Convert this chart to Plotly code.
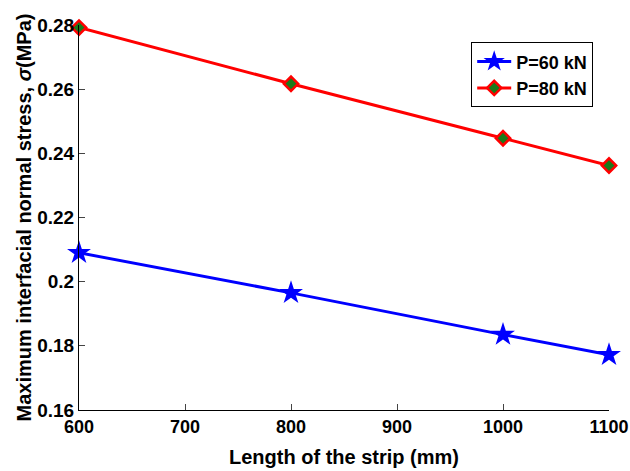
import plotly.graph_objects as go

lengths = [600, 800, 1000, 1100]
p60 = [0.2090, 0.1965, 0.1835, 0.1772]
p80 = [0.2792, 0.2617, 0.2447, 0.2362]
x_ticks = [600, 700, 800, 900, 1000, 1100]
y_ticks = [0.16, 0.18, 0.2, 0.22, 0.24, 0.26, 0.28]
y_tick_text = ["0.16", "0.18", "0.2", "0.22", "0.24", "0.26", "0.28"]

fig = go.Figure()
fig.add_trace(go.Scatter(x=lengths, y=p60, mode="lines+markers", name="P=60 kN",
                         line=dict(color="#0000ff", width=3), cliponaxis=False,
                         marker=dict(symbol="star", size=18, color="#0000ff")))
fig.add_trace(go.Scatter(x=lengths, y=p80, mode="lines+markers", name="P=80 kN",
                         line=dict(color="#ff0000", width=3), cliponaxis=False,
                         marker=dict(symbol="diamond", size=11, color="#1a7a1a",
                                     line=dict(color="#ff0000", width=2.5))))

fam = "Liberation Sans, Arial"
fig.update_layout(
    width=630, height=471,
    margin=dict(l=79, r=21, t=25, b=61),
    paper_bgcolor="white", plot_bgcolor="white",
    font=dict(family=fam, size=18, color="black"),
    showlegend=True,
    legend=dict(x=0.74, y=0.955, xanchor="left", yanchor="top",
                bordercolor="black", borderwidth=1, bgcolor="white",
                font=dict(size=18, family=fam, weight="bold"),
                tracegroupgap=0, itemwidth=34),
    xaxis=dict(range=[600, 1100], tickvals=x_ticks, ticks="inside", ticklen=6,
               showline=True, linecolor="black", linewidth=1, mirror=False,
               showgrid=False, zeroline=False, automargin=False,
               ticklabeloverflow="allow",
               tickfont=dict(size=18, weight="bold"),
               title=dict(text="Length of the strip (mm)", font=dict(size=20, weight="bold"),
                          standoff=14)),
    yaxis=dict(range=[0.16, 0.28], tickvals=y_ticks, ticktext=y_tick_text,
               ticks="inside", ticklen=6,
               showline=True, linecolor="black", linewidth=1, mirror=False,
               showgrid=False, zeroline=False, automargin=False,
               ticklabeloverflow="allow",
               tickfont=dict(size=19, weight="bold"),
               title=dict(text="Maximum interfacial normal stress, <i>σ</i>(MPa)",
                          font=dict(size=20, weight="bold"), standoff=0)),
)
fig.write_html("out.html")
